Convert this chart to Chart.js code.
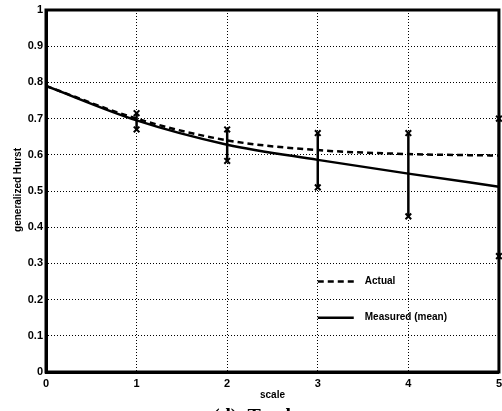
<!DOCTYPE html>
<html>
<head>
<meta charset="utf-8">
<script src="https://cdn.jsdelivr.net/npm/chart.js@4.4.0/dist/chart.umd.min.js"></script>
<style>
body { margin: 0; background: #fff; }
/* canvas runs a few px past the right edge so the last x label gets cut like the frame */
#wrap { width: 502px; height: 411px; overflow: hidden; }
</style>
</head>
<body>
<div id="wrap"><canvas id="hurstChart" width="507" height="411"></canvas></div>
<script>
// generalized Hurst exponent vs. scale
var scaleSteps = [0, 1, 2, 3, 4, 5]
var actual = [0.79, 0.70, 0.64, 0.613, 0.602, 0.598]
var measured = [0.79, 0.695, 0.628, 0.586, 0.548, 0.512]
var errLow = [null, 0.67, 0.583, 0.51, 0.43, 0.32]
var errHigh = [null, 0.715, 0.67, 0.66, 0.66, 0.70]
var xTicks = [0, 1, 2, 3, 4, 5]
var yTicks = [0, 0.1, 0.2, 0.3, 0.4, 0.5, 0.6, 0.7, 0.8, 0.9, 1]

function toPoints(xs, ys) {
    var pts = []
    for (var i = 0; i < xs.length; i++) {
        pts.push({ x: xs[i], y: ys[i] })
    }
    return pts
}

var datasets = [
    {
        label: 'Actual',
        data: toPoints(scaleSteps, actual),
        borderColor: '#000',
        borderWidth: 2.5,
        borderDash: [6, 4],
        pointRadius: 0,
        cubicInterpolationMode: 'monotone'
    },
    {
        label: 'Measured (mean)',
        data: toPoints(scaleSteps, measured),
        borderColor: '#000',
        borderWidth: 2.5,
        pointRadius: 0,
        cubicInterpolationMode: 'monotone'
    }
]

// one little two-point line per error bar, x markers at both ends
for (var i = 0; i < scaleSteps.length; i++) {
    if (errLow[i] === null) continue
    datasets.push({
        label: 'err' + i,
        data: [{ x: scaleSteps[i], y: errLow[i] }, { x: scaleSteps[i], y: errHigh[i] }],
        borderColor: '#000',
        borderWidth: 2.5,
        pointStyle: 'crossRot',
        pointRadius: 4,
        pointBorderWidth: 2,
        pointBorderColor: '#000',
        clip: 8
    })
}

var legendItems = [
    { label: 'Actual', dash: [6, 4], at: 0.25 },
    { label: 'Measured (mean)', dash: [], at: 0.15 }
]

var framePlugin = {
    id: 'frame',
    afterDatasetsDraw: function(chart) {
        var ctx = chart.ctx
        var a = chart.chartArea
        var xs = chart.scales.x
        var ys = chart.scales.y
        ctx.save()
        ctx.strokeStyle = '#000'
        ctx.lineWidth = 3
        ctx.strokeRect(a.left, a.top, a.right - a.left, a.bottom - a.top)

        // legend inside the plot, lower right
        ctx.font = 'bold 10px "Liberation Sans"'
        ctx.fillStyle = '#000'
        ctx.textBaseline = 'middle'
        for (var k = 0; k < legendItems.length; k++) {
            var it = legendItems[k]
            var y = ys.getPixelForValue(it.at)
            var x0 = xs.getPixelForValue(3)
            ctx.lineWidth = 2.5
            ctx.setLineDash(it.dash)
            ctx.beginPath()
            ctx.moveTo(x0, y)
            ctx.lineTo(x0 + 36, y)
            ctx.stroke()
            ctx.setLineDash([])
            ctx.fillText(it.label, x0 + 47, y)
        }
        ctx.restore()
    },
    afterDraw: function(chart) {
        var ctx = chart.ctx
        var a = chart.chartArea
        ctx.save()
        ctx.fillStyle = '#000'
        ctx.textAlign = 'center'
        ctx.textBaseline = 'middle'
        ctx.font = 'bold 10px "Liberation Sans"'
        ctx.fillText('scale', (a.left + a.right) / 2, 395)

        ctx.translate(18, 190)
        ctx.rotate(-Math.PI / 2)
        ctx.fillText('generalized Hurst', 0, 0)
        ctx.restore()

        // caption below the plot, mostly cut off by the bottom edge
        ctx.save()
        ctx.fillStyle = '#000'
        ctx.font = 'bold 20px "Liberation Serif"'
        ctx.textAlign = 'left'
        ctx.textBaseline = 'alphabetic'
        ctx.fillText('(d)  Total', 213, 423)
        ctx.restore()
    }
}

Chart.defaults.font.family = '"Liberation Sans", Arial, sans-serif'
Chart.defaults.font.weight = 'bold'
Chart.defaults.font.size = 11
Chart.defaults.color = '#000'

var hurst = new Chart(document.getElementById('hurstChart'), {
    type: 'line',
    data: { datasets: datasets },
    options: {
        responsive: false,
        animation: false,
        layout: { padding: { top: 10, right: 1, left: 0, bottom: 0 } },
        plugins: {
            legend: { display: false },
            tooltip: { enabled: false }
        },
        scales: {
            x: {
                type: 'linear',
                min: 0,
                max: 5,
                afterBuildTicks: function(axis) {
                    axis.ticks = xTicks.map(function(v) { return { value: v } })
                },
                afterFit: function(axis) {
                    axis.height = 39
                },
                ticks: { autoSkip: false, maxRotation: 0, padding: 5 },
                grid: { color: '#000', lineWidth: 1, drawTicks: false },
                border: { color: '#000', width: 3, dash: [1, 2] }
            },
            y: {
                min: 0,
                max: 1,
                afterBuildTicks: function(axis) {
                    axis.ticks = yTicks.map(function(v) { return { value: v } })
                },
                afterFit: function(axis) {
                    axis.width = 46
                    axis.paddingTop = 0
                    axis.paddingBottom = 0
                },
                ticks: {
                    padding: 3,
                    callback: function(v) {
                        return (v === 0 || v === 1) ? String(v) : v.toFixed(1)
                    }
                },
                grid: { color: '#000', lineWidth: 1, drawTicks: false },
                border: { color: '#000', width: 3, dash: [1, 2] }
            }
        }
    },
    plugins: [framePlugin]
})
</script>
</body>
</html>
